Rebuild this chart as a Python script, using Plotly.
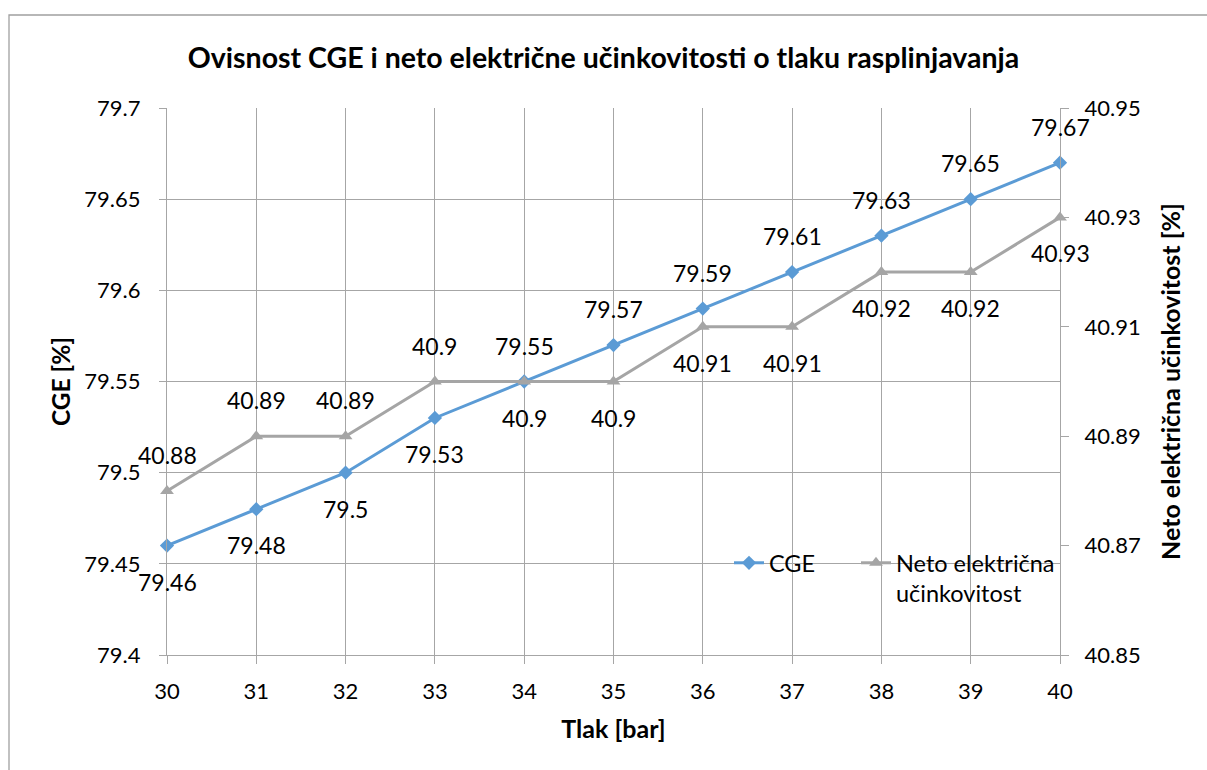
import plotly.graph_objects as go

# Gasification pressure [bar]
tlak = [30, 31, 32, 33, 34, 35, 36, 37, 38, 39, 40]
# Cold gas efficiency [%]
cge = [79.46, 79.48, 79.5, 79.53, 79.55, 79.57, 79.59, 79.61, 79.63, 79.65, 79.67]
# Net electrical efficiency [%]
neto = [40.88, 40.89, 40.89, 40.9, 40.9, 40.9, 40.91, 40.91, 40.92, 40.92, 40.93]

# Label side for each point: +1 above, -1 below
cge_side = [-1] * 4 + [1] * 7
neto_side = [1] * 4 + [-1] * 7

FONT = "Lato"
GRID = "#A6A6A6"
BLUE = "#5B9BD5"
GREY = "#A5A5A5"
LABEL_GAP = 36

fig = go.Figure()
fig.add_trace(go.Scatter(
    x=tlak, y=cge, name="CGE", mode="lines+markers",
    line=dict(color=BLUE, width=3),
    marker=dict(symbol="diamond", size=11, color=BLUE),
    cliponaxis=False, legend="legend",
))
fig.add_trace(go.Scatter(
    x=tlak, y=neto, name="Neto električna<br>učinkovitost", mode="lines+markers",
    yaxis="y2",
    line=dict(color=GREY, width=3),
    marker=dict(symbol="triangle-up", size=12, color=GREY),
    cliponaxis=False, legend="legend2",
))

# Value labels
for xs, ys, sides, yref in ((tlak, cge, cge_side, "y"), (tlak, neto, neto_side, "y2")):
    for xv, yv, s in zip(xs, ys, sides):
        fig.add_annotation(
            x=xv, y=yv, xref="x", yref=yref, text=f"{yv:g}",
            showarrow=False, yshift=s * LABEL_GAP,
            font=dict(family=FONT, size=23, color="black"),
        )

W, H = 1207, 770
L, R, T, B = 167, 147, 108, 115
pw, ph = W - L - R, H - T - B


def px(x):
    return (x - L) / pw


def py(y):
    return (H - B - y) / ph


legend_common = dict(
    orientation="h", yanchor="top", y=py(541), xanchor="left",
    bgcolor="rgba(0,0,0,0)", valign="top",
    font=dict(family=FONT, size=23.5), itemwidth=30,
)

fig.update_layout(
    width=W, height=H,
    margin=dict(l=L, r=R, t=T, b=B),
    paper_bgcolor="white", plot_bgcolor="white",
    font=dict(family=FONT, size=22, color="black"),
    title=dict(
        text="<b>Ovisnost CGE i neto električne učinkovitosti o tlaku rasplinjavanja</b>",
        x=0.5, xanchor="center", y=1 - 58 / H, yanchor="middle",
        font=dict(family=FONT, size=28.5, color="black"),
    ),
    xaxis=dict(
        range=[30, 40], tick0=30, dtick=1,
        showgrid=True, gridcolor=GRID, gridwidth=1.3,
        showline=True, linecolor=GRID, linewidth=1.3,
        ticks="outside", ticklen=8, tickcolor=GRID, tickwidth=1.3,
        ticklabelstandoff=8,
        zeroline=False,
        title=dict(text="<b>Tlak [bar]</b>", font=dict(family=FONT, size=25), standoff=17),
    ),
    yaxis=dict(
        range=[79.4, 79.7], tick0=79.4, dtick=0.05,
        showgrid=True, gridcolor=GRID, gridwidth=1.3,
        showline=True, linecolor=GRID, linewidth=1.3,
        ticks="outside", ticklen=7, tickcolor=GRID, tickwidth=1.3,
        ticklabelstandoff=14,
        zeroline=False,
        title=dict(text="<b>CGE [%]</b>", font=dict(family=FONT, size=24.5), standoff=6),
    ),
    yaxis2=dict(
        range=[40.85, 40.95], tick0=40.85, dtick=0.02, tickformat=".2f",
        overlaying="y", side="right",
        showgrid=False,
        showline=True, linecolor=GRID, linewidth=1.3,
        ticks="outside", ticklen=8, tickcolor=GRID, tickwidth=1.3,
        ticklabelstandoff=11,
        zeroline=False,
        title=dict(text="<b>Neto električna učinkovitost [%]</b>",
                   font=dict(family=FONT, size=25), standoff=22),
    ),
    legend=dict(x=px(729), **legend_common),
    legend2=dict(x=px(856), **legend_common),
    showlegend=True,
)

# Chart frame
fig.add_shape(
    type="rect", xref="paper", yref="paper",
    x0=px(9), x1=px(1215), y0=py(780), y1=py(15),
    line=dict(color="#A0A0A0", width=1.3), fillcolor="rgba(0,0,0,0)", layer="below",
)

fig.write_html("out.html")
